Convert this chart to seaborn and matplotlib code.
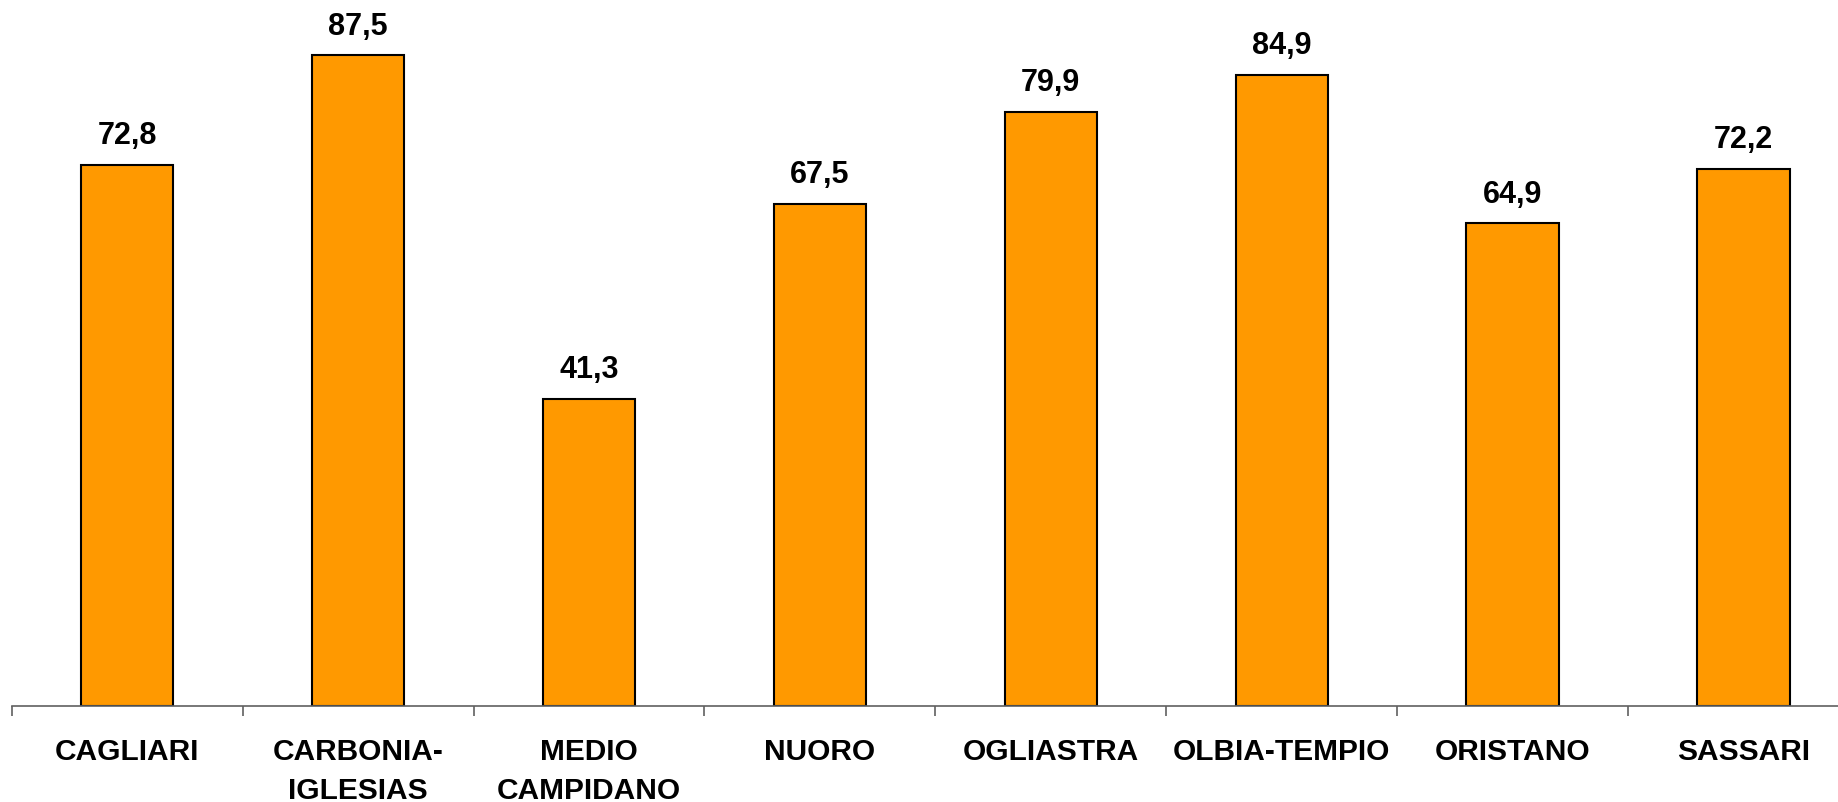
import numpy as np
import pandas as pd
import matplotlib
matplotlib.use('Agg')
import matplotlib.pyplot as plt
import seaborn as sns

# Data
provinces = ['CAGLIARI', 'CARBONIA-\nIGLESIAS', 'MEDIO\nCAMPIDANO', 'NUORO',
             'OGLIASTRA', 'OLBIA-TEMPIO', 'ORISTANO', 'SASSARI']
values = [72.8, 87.5, 41.3, 67.5, 79.9, 84.9, 64.9, 72.2]

df = pd.DataFrame({'Provincia': provinces, 'Valore': values})

sns.set_style('white')
plt.rcParams['font.family'] = ['Liberation Sans', 'DejaVu Sans']
plt.rcParams['text.color'] = 'black'
plt.rcParams['xtick.color'] = 'black'
plt.rcParams['xtick.labelcolor'] = 'black'

fig = plt.figure(figsize=(18.38, 8.03), dpi=100)
ax = fig.add_axes([0.0064, 0.1196, 1.005, 0.8804])

sns.barplot(data=df, x='Provincia', y='Valore', color='#FF9900', saturation=1,
            edgecolor='black', linewidth=1.5, width=0.4, ax=ax)

# value labels with comma decimal
labels = [f"{v:.1f}".replace('.', ',') for v in values]
ax.bar_label(ax.containers[0], labels=labels, padding=10.5,
             fontsize=22, fontweight='bold', color='black')

ax.set_xlim(-0.5, len(values) - 0.5)
ax.set_ylim(0, 95.07)
ax.set_xlabel('')
ax.set_ylabel('')
ax.set_yticks([])

for side in ['top', 'right', 'left']:
    ax.spines[side].set_visible(False)
ax.spines['bottom'].set_color('#606060')
ax.spines['bottom'].set_linewidth(1.2)

# category labels centred, ticks at category boundaries
ax.set_xticks(range(len(values)))
ax.set_xticklabels(provinces, fontsize=21.5, fontweight='bold', linespacing=1.5,
                   color='black')
ax.tick_params(axis='x', which='major', bottom=True, length=0, pad=22.5)
ax.set_xticks(np.arange(-0.5, len(values) + 0.5, 1), minor=True)
ax.tick_params(axis='x', which='minor', bottom=True, length=7, width=1.2,
               color='#606060', direction='out')

fig.savefig('out.png', dpi=100)
